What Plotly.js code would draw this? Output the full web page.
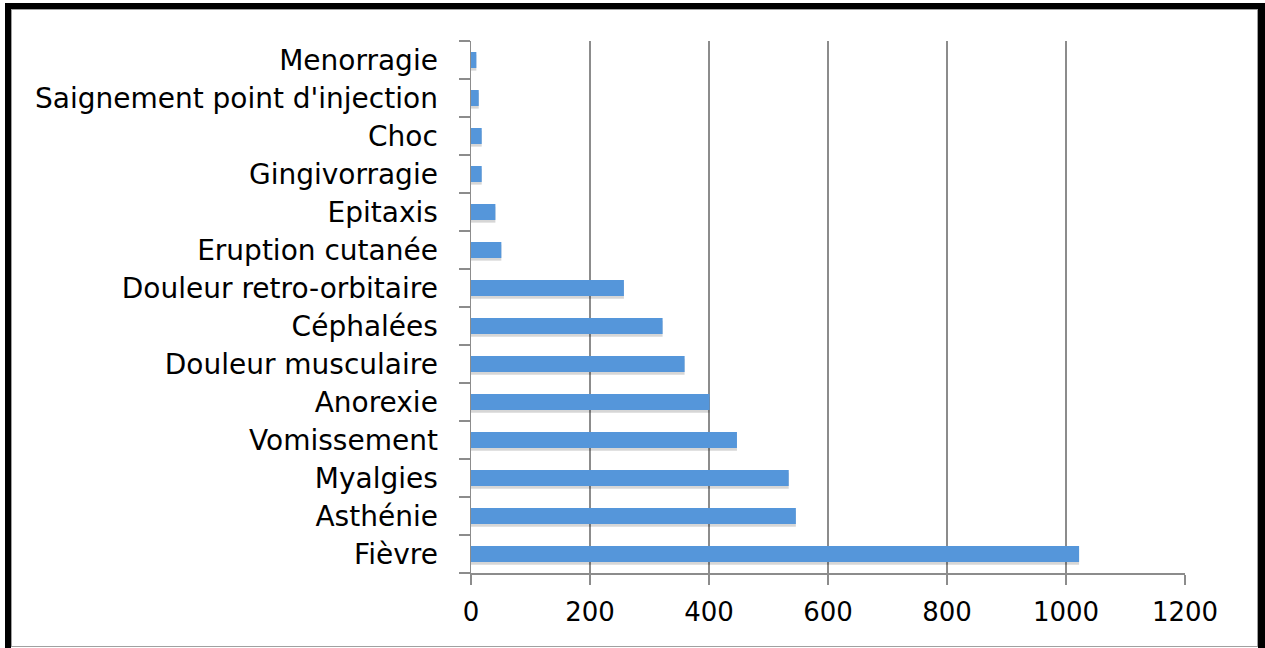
<!DOCTYPE html>
<html><head><meta charset="utf-8">
<script src="https://cdn.plot.ly/plotly-3.0.1.min.js"></script>
<style>
html,body{margin:0;padding:0;background:#fff;}
#wrap{position:relative;width:1265px;height:648px;overflow:hidden;}
#chart{position:absolute;left:0;top:0;width:1265px;height:648px;}
#frame{position:absolute;left:5px;top:3px;width:1260px;height:650px;box-sizing:border-box;border-left:6px solid #000;border-top:6px solid #000;border-right:7px solid #000;pointer-events:none;}
#inner{position:absolute;left:11px;top:9px;width:1247px;height:638px;box-sizing:border-box;border:1.5px solid #a0a0a0;pointer-events:none;}
</style></head>
<body><div id="wrap"><div id="chart"></div><div id="frame"></div><div id="inner"></div></div>
<script>
const categories = ["Fièvre","Asthénie","Myalgies","Vomissement","Anorexie","Douleur musculaire","Céphalées","Douleur retro-orbitaire","Eruption cutanée","Epitaxis","Gingivorragie","Choc","Saignement point d'injection","Menorragie"];
const values = [1022, 546, 534, 447, 401, 359, 322, 257, 51, 41, 18, 18, 13, 9];
const xTicks = [0, 200, 400, 600, 800, 1000, 1200];

const shadow = {
  type: 'bar', orientation: 'h', y: categories, x: values,
  width: 0.42, offset: -0.28,
  marker: {color: 'rgba(0,0,0,0.16)', line: {width: 0}},
  hoverinfo: 'skip', showlegend: false
};
const bars = {
  type: 'bar', orientation: 'h', y: categories, x: values,
  width: 0.42, offset: -0.21,
  marker: {color: '#5596da', line: {width: 0}},
  showlegend: false
};
const layout = {
  width: 1265, height: 648,
  margin: {l: 471, r: 80, t: 41, b: 75, pad: 0},
  paper_bgcolor: 'rgba(0,0,0,0)', plot_bgcolor: '#fff',
  barmode: 'overlay',
  font: {family: 'DejaVu Sans, sans-serif', size: 26, color: '#000'},
  xaxis: {
    range: [0, 1200], tickvals: xTicks, ticktext: xTicks.map(String),
    showgrid: true, gridcolor: '#8c8c8c', gridwidth: 1.5,
    zeroline: false, showline: true, linecolor: '#8c8c8c', linewidth: 1.5,
    ticks: 'outside', ticklen: 10, tickcolor: '#8c8c8c', tickwidth: 1.5,
    tickfont: {size: 26}, ticklabelstandoff: 5, fixedrange: true
  },
  yaxis: {
    type: 'category', categoryorder: 'array', categoryarray: categories,
    range: [-0.5, categories.length - 0.5],
    showgrid: false, zeroline: false, showline: true, linecolor: '#8c8c8c', linewidth: 1.5,
    ticks: 'outside', ticklen: 11, tickcolor: '#8c8c8c', tickwidth: 1.5, tickson: 'boundaries',
    tickfont: {size: 28}, ticklabelstandoff: 26, fixedrange: true
  }
};
Plotly.newPlot('chart', [shadow, bars], layout, {displayModeBar: false, staticPlot: true});
</script></body></html>
